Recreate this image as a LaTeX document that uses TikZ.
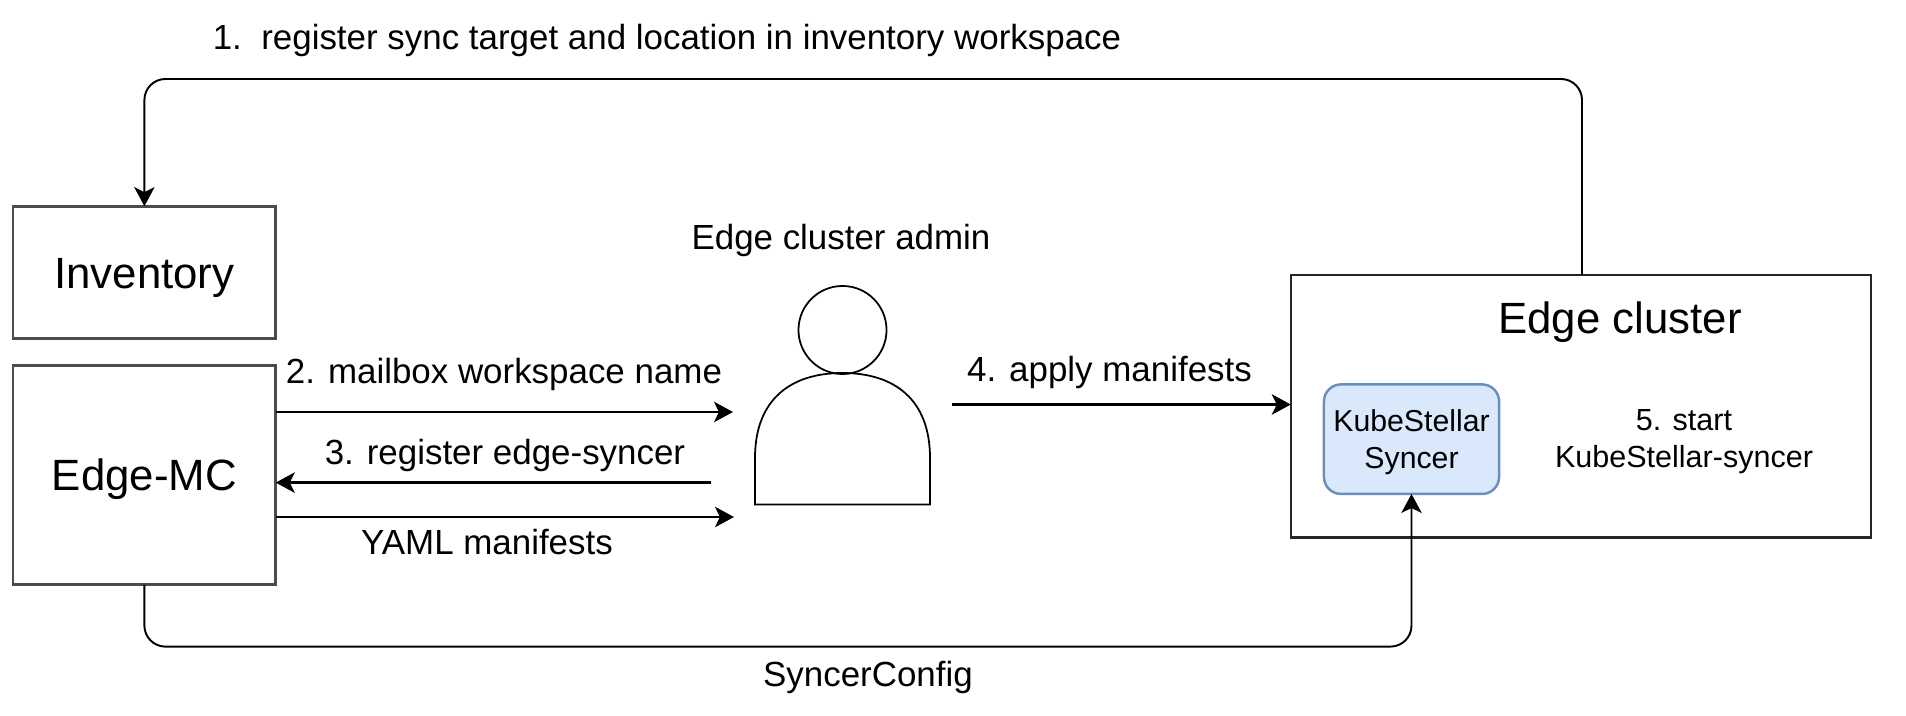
\documentclass[tikz,border=0pt]{standalone}
\usepackage{fontspec}
\setmainfont{Liberation Sans}
\usetikzlibrary{arrows.meta}
\definecolor{syncerfill}{HTML}{DAE8FC}
\definecolor{syncerline}{HTML}{6C8EBF}

\begin{document}
\begin{tikzpicture}[x=0.01cm, y=-0.01cm, node distance=2cm]
        \tikzstyle{plainbox} = [rectangle, minimum width=2.625cm, inner sep=0pt, outer sep=0pt, text centered, text height=9pt, text depth=0pt, draw=black!70, line width=0.8pt, font=\fontsize{12.45}{14}\selectfont]
        \tikzstyle{clusterbox} = [rectangle, minimum width=5.8cm, minimum height=2.625cm, inner sep=0pt, outer sep=0pt, draw=black!85, line width=0.7pt]
        \tikzstyle{syncerbox} = [rectangle, rounded corners=0.17cm, minimum width=1.75cm, minimum height=1.095cm, inner sep=0pt, outer sep=0pt, align=center, draw=syncerline, fill=syncerfill, line width=0.7pt, font=\fontsize{8.6}{10.5}\selectfont]
        \tikzstyle{label} = [inner sep=0pt, align=center, font=\fontsize{9.93}{11}\selectfont]
        \tikzstyle{small} = [inner sep=0pt, align=center, font=\fontsize{8.68}{10.5}\selectfont]
        \tikzstyle{arrow} = [line width=0.65pt, -{Stealth[length=5.4pt, width=5.8pt, inset=1.4pt]}]
        \tikzstyle{elbow} = [line width=0.55pt, rounded corners=0.21cm, -{Stealth[length=5.4pt, width=5.8pt, inset=1.4pt]}]

        \useasboundingbox (0,0) rectangle (1906,716);

        \node (inventory) [plainbox, minimum height=1.32cm] at (144.4,272.2) {Inventory};
        \node (edgemc) [plainbox, minimum height=2.195cm, below of=inventory, yshift=-0.026cm] {Edge-MC};

        % edge cluster and what sits in it
        \node (cluster) [clusterbox] at (1581,406.2) {};
        \node (syncer) [syncerbox] at (1411.5,439.2) {\rule{0pt}{7.7pt}KubeStellar\\Syncer};
        \node (clustertitle) [inner sep=0pt, font=\fontsize{12.45}{14}\selectfont] at (1620,322) {Edge cluster};
        \node (startnote) [small] at (1684,442) {5. start\\KubeStellar-syncer};

        % admin figure
        \node (admintitle) [label] at (841,240.4) {Edge cluster admin};
        \node (adminhead) [circle, minimum size=0.88cm, inner sep=0pt, draw=black, line width=0.5pt] at (842.5,330) {};
        \draw [line width=0.5pt] (755,504.6) -- (930,504.6) -- (930,458)
            .. controls (930,400) and (895,373) .. (842.5,373)
            .. controls (790,373) and (755,400) .. (755,458) -- cycle;

        \coordinate (mailend) at (733,412);
        \coordinate (regstart) at (711,482.6);
        \coordinate (yamlend) at (734,517);
        \coordinate (applystart) at (952,404.5);
        \coordinate (topright) at (1582,79);
        \coordinate (bottomleft) at (144.4,646.6);

        \draw [arrow] (edgemc.east |- mailend) -- (mailend);
        \draw [arrow] (regstart) -- (edgemc.east |- regstart);
        \draw [arrow] (edgemc.east |- yamlend) -- (yamlend);
        \draw [arrow] (applystart) -- (cluster.west |- applystart);
        \draw [elbow] (cluster.north -| topright) -- (topright) -- (inventory.north |- topright) -- (inventory.north);
        \draw [elbow] (edgemc.south) -- (bottomleft) -- (syncer.south |- bottomleft) -- (syncer.south);

        \node (registernote) [label] at (667,40.4) {1.\ \ register sync target and location in inventory workspace};
        \node (mailnote) [label] at (504,374.4) {2. mailbox workspace name};
        \node (edgesyncnote) [label] at (505,455.4) {3. register edge-syncer};
        \node (yamlnote) [label] at (487,542) {YAML manifests};
        \node (applynote) [label] at (1109.5,372.4) {4. apply manifests};
        \node (confignote) [label] at (868,677.4) {SyncerConfig};
\end{tikzpicture}
\end{document}
